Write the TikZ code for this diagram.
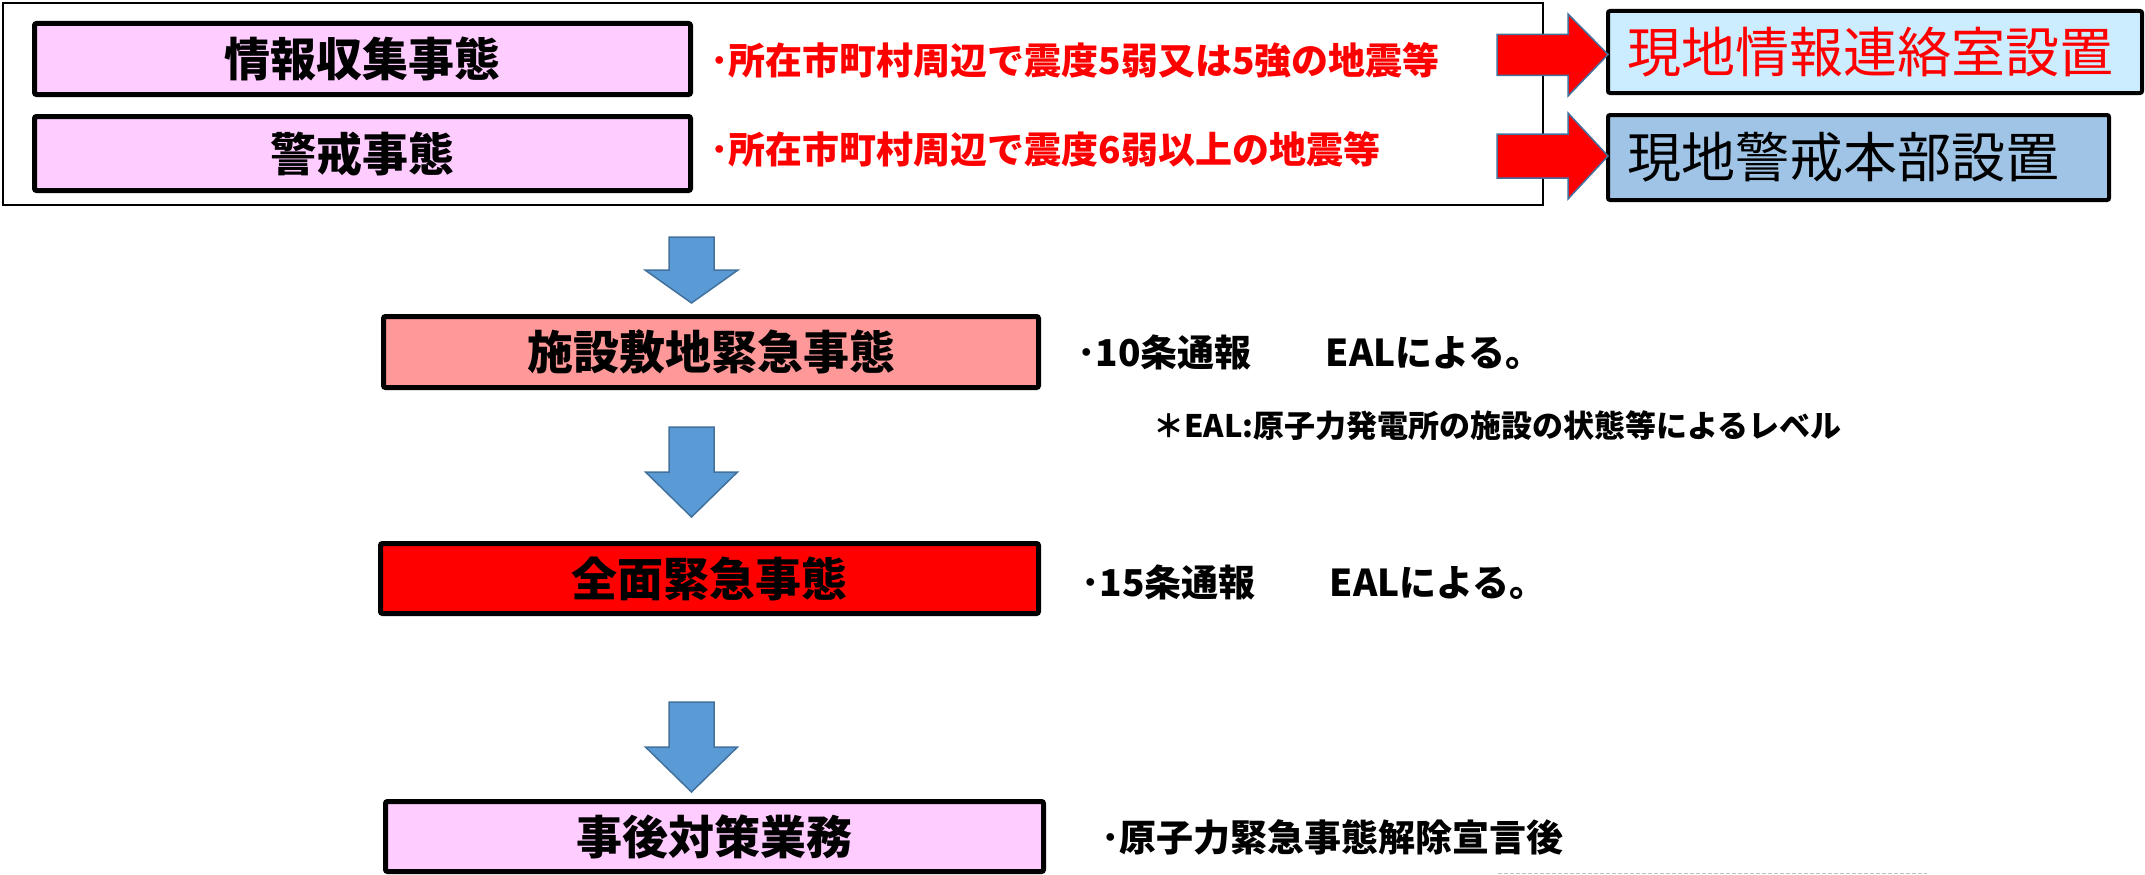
\documentclass[tikz,border=0pt]{standalone}
\usepackage{fontspec}
\setmainfont{Noto Sans CJK JP}
\usetikzlibrary{calc}
\definecolor{pinkbox}{HTML}{FFCCFF}
\definecolor{salmonbox}{HTML}{FF9999}
\definecolor{lightbluebox}{HTML}{CCECFF}
\definecolor{midbluebox}{RGB}{160,196,230}
\definecolor{arrowblue}{HTML}{5B9BD5}
\definecolor{arrowedge}{HTML}{41719C}
\begin{document}
\begin{tikzpicture}[x=1pt,y=-1pt,
  titlebox/.style={draw=black,line width=5pt,rounded corners=2pt,inner sep=0pt,outer sep=0pt,font=\bfseries\fontsize{46}{52}\selectfont},
  infobox/.style={draw=black,line width=4pt,rounded corners=2pt,inner xsep=19pt,inner ysep=0pt,outer sep=0pt,align=left,font=\fontsize{54}{60}\selectfont},
  note/.style={anchor=west,inner sep=0pt,font=\bfseries\fontsize{37}{42}\selectfont},
  rednote/.style={note,text=red},
  redblock/.style={fill=red,draw=arrowedge,line width=1.5pt,line join=miter},
  blueblock/.style={fill=arrowblue,draw=arrowedge,line width=1.5pt,line join=miter}]
\useasboundingbox (0,0) rectangle (2145,875);

% outer frame
\node[draw=black,line width=2pt,inner sep=0pt,minimum width=1540,minimum height=202] (frame) at (773,104) {};

% top-left boxes
\node[titlebox,fill=pinkbox,minimum width=656,minimum height=71] (b1) at (362.5,59) {情報収集事態};
\node[titlebox,fill=pinkbox,minimum width=656,minimum height=74] (b2) at (362.5,153.5) {警戒事態};

\node[rednote] (t1) at (710,60) {･所在市町村周辺で震度5弱又は5強の地震等};
\node[rednote] (t2) at (710,149) {･所在市町村周辺で震度6弱以上の地震等};

% right boxes
\node[infobox,fill=lightbluebox,text=red,text width=496,minimum height=82] (r1) at (1875,52) {現地情報連絡室設置};
\node[infobox,fill=midbluebox,text=black,text width=463,minimum height=85] (r2) at (1858.5,157.5) {現地警戒本部設置};

% red block arrows
\coordinate (rt1) at ($(r1.west)+(0,2.5)$);
\coordinate (rt2) at ($(r2.west)+(0,-1.5)$);
\draw[redblock] (rt1) -- ++(-40,-40.5) -- ++(0,20.5) -- ++(-71,0) -- ++(0,41) -- ++(71,0) -- ++(0,20.5) -- cycle;
\draw[redblock] (rt2) -- ++(-40,-43) -- ++(0,21) -- ++(-71,0) -- ++(0,44) -- ++(71,0) -- ++(0,21) -- cycle;

% middle column
\node[titlebox,fill=salmonbox,minimum width=655,minimum height=71] (c1) at (711,352) {施設敷地緊急事態};
\node[titlebox,fill=red,minimum width=658,minimum height=70] (c2) at (709.5,578.5) {全面緊急事態};
\node[titlebox,fill=pinkbox,minimum width=658,minimum height=70] (c3) at (714.5,836.5) {事後対策業務};

\node[note] (t3) at (1077,352) {･10条通報　　EALによる。};
\node[note,font=\bfseries\fontsize{31}{36}\selectfont] (t4) at (1153,426) {＊EAL:原子力発電所の施設の状態等によるレベル};
\node[note] (t5) at (1081,582) {･15条通報　　EALによる。};
\node[note] (t6) at (1101,837) {･原子力緊急事態解除宣言後};

% blue block arrows
\coordinate (bt1) at ($(c1.north)+(-19.5,-13.5)$);
\coordinate (bt2) at ($(c2.north)+(-18,-26.5)$);
\coordinate (bt3) at ($(c3.north)+(-23,-9.5)$);
\draw[blueblock] (bt1) -- ++(-46.5,-33) -- ++(24,0) -- ++(0,-33) -- ++(45,0) -- ++(0,33) -- ++(24,0) -- cycle;
\draw[blueblock] (bt2) -- ++(-46,-45) -- ++(23.5,0) -- ++(0,-45) -- ++(45,0) -- ++(0,45) -- ++(23.5,0) -- cycle;
\draw[blueblock] (bt3) -- ++(-46,-45) -- ++(23.5,0) -- ++(0,-45) -- ++(45,0) -- ++(0,45) -- ++(23.5,0) -- cycle;

% faint dashed line at bottom
\coordinate (d1) at (1498,873.5);
\coordinate (d2) at (1927,873.5);
\draw[black!25,line width=1.5pt,dash pattern=on 4pt off 2pt] (d1) -- (d2);
\end{tikzpicture}
\end{document}
